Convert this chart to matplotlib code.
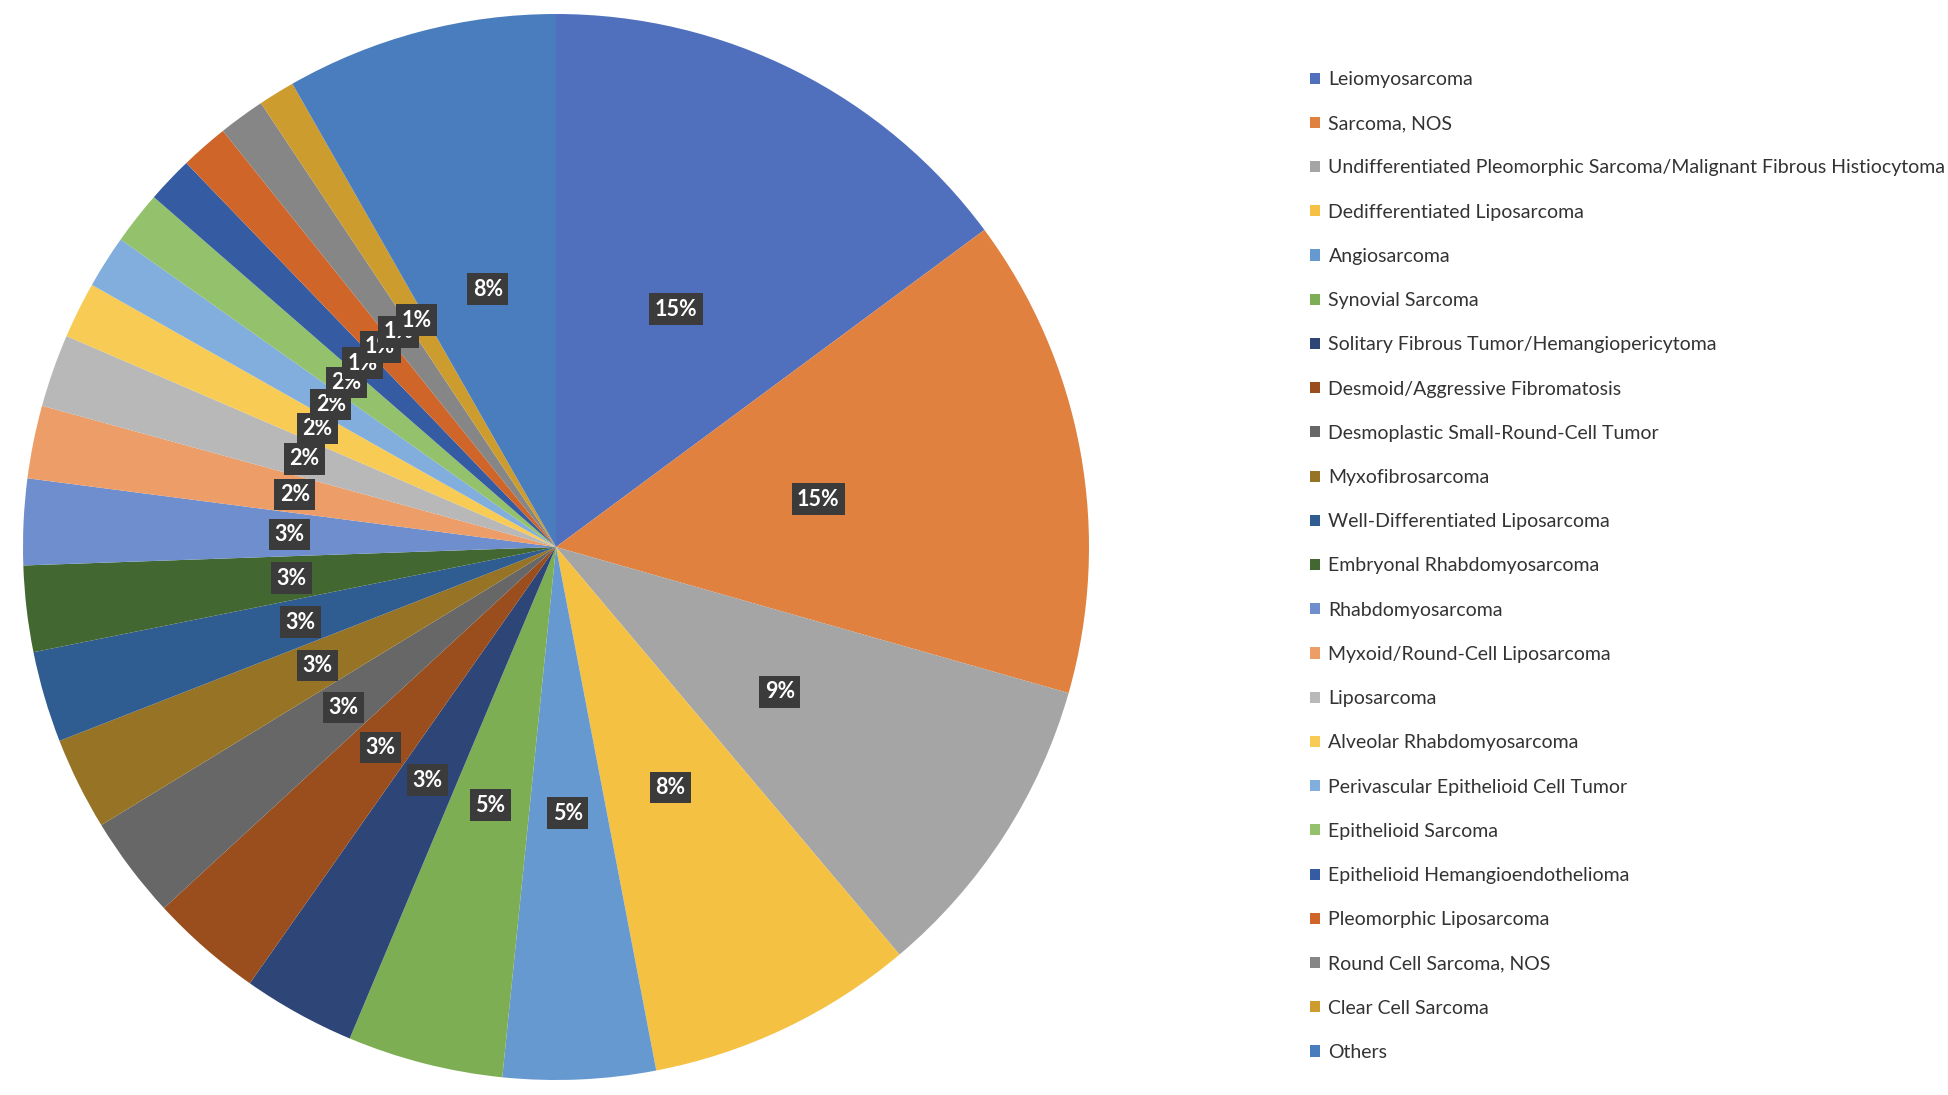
import matplotlib
matplotlib.use("Agg")
import matplotlib.pyplot as plt
from matplotlib.patches import Patch

plt.rcParams['font.family'] = ['Lato', 'DejaVu Sans']

# sarcoma subtypes, share of cases (%)
subtypes = [
    "Leiomyosarcoma",
    "Sarcoma, NOS",
    "Undifferentiated Pleomorphic Sarcoma/Malignant Fibrous Histiocytoma",
    "Dedifferentiated Liposarcoma",
    "Angiosarcoma",
    "Synovial Sarcoma",
    "Solitary Fibrous Tumor/Hemangiopericytoma",
    "Desmoid/Aggressive Fibromatosis",
    "Desmoplastic Small-Round-Cell Tumor",
    "Myxofibrosarcoma",
    "Well-Differentiated Liposarcoma",
    "Embryonal Rhabdomyosarcoma",
    "Rhabdomyosarcoma",
    "Myxoid/Round-Cell Liposarcoma",
    "Liposarcoma",
    "Alveolar Rhabdomyosarcoma",
    "Perivascular Epithelioid Cell Tumor",
    "Epithelioid Sarcoma",
    "Epithelioid Hemangioendothelioma",
    "Pleomorphic Liposarcoma",
    "Round Cell Sarcoma, NOS",
    "Clear Cell Sarcoma",
    "Others",
]
share = [14.8, 14.5, 9.4, 8.1, 4.6, 4.7, 3.4, 3.4, 3.1, 2.8, 2.75, 2.6,
         2.6, 2.2, 2.2, 1.7, 1.6, 1.6, 1.4, 1.45, 1.4, 1.1, 8.2]
colors = ["#5070BE", "#E0813F", "#A5A5A5", "#F4C143", "#6699D0", "#7EAE54",
          "#2D4677", "#9A4E1D", "#676767", "#977425", "#2F5C91", "#436730",
          "#6E8ECE", "#EC9D68", "#B8B8B8", "#F8CB55", "#82AEDD", "#94C16C",
          "#355CA3", "#D0652A", "#868686", "#CD9C2E", "#4A7DBD"]

W, H = 1949, 1095
fig = plt.figure(figsize=(W / 100, H / 100), dpi=100)
cx, cy, r = 556, 547, 533
ax = fig.add_axes([(cx - r) / W, (H - cy - r) / H, 2 * r / W, 2 * r / H])

wedges, texts, autotexts = ax.pie(
    share, colors=colors, startangle=90, counterclock=False,
    autopct=lambda p: f"{p:.0f}%", pctdistance=0.5,
    wedgeprops=dict(linewidth=0),
    textprops=dict(color="white", fontsize=15.5, fontweight="bold"))
for t in autotexts:
    t.set_bbox(dict(boxstyle="square,pad=0.25", fc="#3B3B3B", ec="none"))
ax.set_xlim(-1, 1)
ax.set_ylim(-1, 1)
ax.set_aspect("equal")

handles = [Patch(facecolor=c, edgecolor="none") for c in colors]
fig.legend(handles, subtypes, loc="upper left",
           bbox_to_anchor=(1310 / W, 1 - 71 / H), frameon=False,
           fontsize=14, handlelength=0.5, handleheight=0.5,
           handletextpad=0.45, labelspacing=1.40, borderpad=0,
           borderaxespad=0, labelcolor="#333333")

fig.savefig("out.png", dpi=100)
